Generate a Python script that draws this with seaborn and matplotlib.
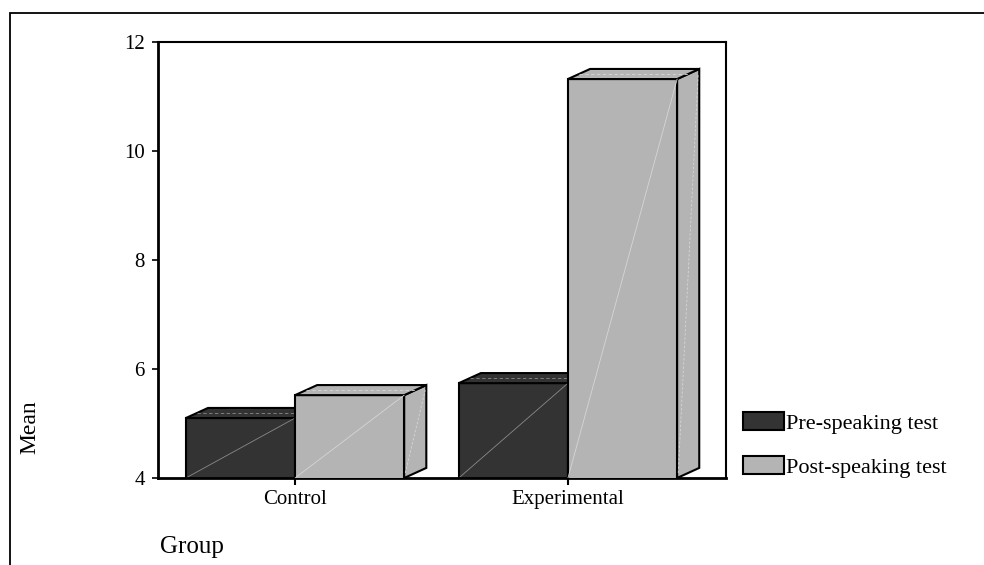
import matplotlib
matplotlib.use("Agg")
import matplotlib.pyplot as plt
from matplotlib.patches import Polygon, Patch, Rectangle
import seaborn as sns
import pandas as pd

# Mean scores per group, before and after the speaking course
groups = ["Control", "Experimental"]
tests = ["Pre-speaking test", "Post-speaking test"]
pre_means = [5.10, 5.74]
post_means = [5.52, 11.32]
y_ticks = [4, 6, 8, 10, 12]

df = pd.DataFrame({
    "Group": groups * 2,
    "Test": [tests[0]] * len(groups) + [tests[1]] * len(groups),
    "Mean": pre_means + post_means,
})

sns.set_style("ticks")
plt.rcParams["font.family"] = ["Liberation Serif", "DejaVu Serif"]
for key in ["text.color", "axes.labelcolor", "xtick.color", "ytick.color", "axes.edgecolor"]:
    plt.rcParams[key] = "black"

dark, light = "#333333", "#b4b4b4"
diag_colors = {dark: "#8a8a8a", light: "#d6d6d6"}

fig = plt.figure(figsize=(9.84, 5.65), dpi=100)
ax = fig.add_axes([0.1606, 0.154, 0.5772, 0.7717])

sns.barplot(data=df, x="Group", y="Mean", hue="Test", hue_order=tests,
            palette=[dark, light], saturation=1, edgecolor="black",
            linewidth=1.5, width=0.8, legend=False, ax=ax)

ax.set_ylim(4, 12)
ax.set_xlim(-0.502, 1.579)
ymin = ax.get_ylim()[0]

# depth of the extruded blocks, in data units
dx, dy = 0.081, 0.185

bars = list(ax.patches)
n = len(groups)
for i, bar in enumerate(bars):
    level = i // n
    z = 2 + level
    bar.set_zorder(z)
    x0 = bar.get_x()
    x1 = x0 + bar.get_width()
    top = bar.get_y() + bar.get_height()
    fc = bar.get_facecolor()
    col = dark if level == 0 else light
    top_face = Polygon([(x0, top), (x0 + dx, top + dy), (x1 + dx, top + dy), (x1, top)],
                       closed=True, facecolor=fc, edgecolor="black", lw=1.5, zorder=z)
    side_face = Polygon([(x1, ymin), (x1 + dx, ymin + dy), (x1 + dx, top + dy), (x1, top)],
                        closed=True, facecolor=fc, edgecolor="black", lw=1.5, zorder=z)
    ax.add_patch(side_face)
    ax.add_patch(top_face)
    # faint shading seams across the faces
    ax.plot([x0, x1], [ymin, top], color=diag_colors[col], lw=0.6, zorder=z + 0.1)
    ax.plot([x1 + 0.004, x1 + dx - 0.004], [ymin + dy * 0.5, top + dy * 0.5],
            color=diag_colors[col], lw=0.6, ls=(0, (3, 2)), zorder=z + 0.1)
    ax.plot([x0 + dx * 0.5, x1 + dx * 0.5], [top + dy * 0.5, top + dy * 0.5],
            color=diag_colors[col], lw=0.6, ls=(0, (4, 3)), zorder=z + 0.1)

ax.set_yticks(y_ticks)
ax.set_yticklabels([str(t) for t in y_ticks])
ax.set_xlabel("")
ax.set_ylabel("")
ax.tick_params(axis="y", direction="out", length=4, width=1.2, pad=5.5, labelsize=15)
ax.tick_params(axis="x", direction="out", length=5, width=1.5, pad=4, labelsize=15)

for side in ["left", "bottom"]:
    ax.spines[side].set_linewidth(2.0)
for side in ["top", "right"]:
    ax.spines[side].set_visible(True)
    ax.spines[side].set_linewidth(1.5)

# legend
handles = [Patch(facecolor=dark, edgecolor="black", lw=1.5),
           Patch(facecolor=light, edgecolor="black", lw=1.5)]
fig.legend(handles, tests, loc="upper left", bbox_to_anchor=(0.755, 1 - 412 / 565),
           frameon=False, fontsize=16, handlelength=1.85, handleheight=0.9,
           handletextpad=0.08, labelspacing=0.98, borderpad=0, borderaxespad=0)

fig.text(30 / 984, 1 - 427 / 565, "Mean", rotation=90, fontsize=17,
         ha="center", va="center")
fig.text(160 / 984, 1 - 547 / 565, "Group", fontsize=18, ha="left", va="center")

# outer frame around the chart
fig.patches.append(Rectangle((10 / 984, -0.05), 1.0, 1 - 13 / 565 + 0.05,
                             transform=fig.transFigure, fill=False,
                             edgecolor="black", lw=1.3))

fig.savefig("out.png", dpi=100)
